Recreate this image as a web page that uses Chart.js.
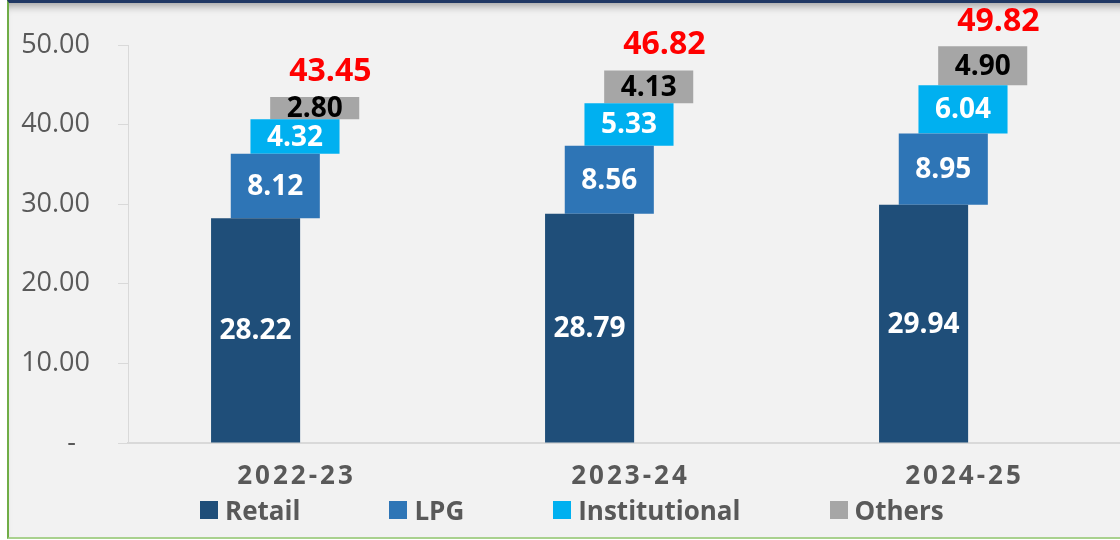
<!DOCTYPE html>
<html>
<head>
<meta charset="utf-8">
<script src="https://cdn.jsdelivr.net/npm/chart.js@4"></script>
<style>
  body { margin: 0; background: #fff; width: 1120px; height: 540px; overflow: hidden; position: relative; font-family: "Open Sans", sans-serif; }
  #frame { position: absolute; left: 7px; top: 0; width: 1120px; height: 534px; background: #f2f2f2;
           border-left: 2px solid #70ad47; border-top: 3px solid #203864; border-bottom: 2px solid #a9d18e;
           box-shadow: inset 0 9px 8px -6px rgba(0,0,0,.35); }
  #wrap { position: absolute; left: 0; top: 0; width: 1130px; height: 540px; }
  #legend { position: absolute; top: 494px; left: 200px; display: flex; gap: 89px; }
  #legend .item { display: flex; align-items: center; height: 32px; font-weight: bold; font-size: 26px; color: #595959; }
  #legend .box { width: 18px; height: 18px; margin-right: 7px; }
</style>
</head>
<body>
<div id="frame"></div>
<div id="wrap"><canvas id="myChart" width="1130" height="540"></canvas></div>
<div id="legend"></div>
<script>
const ctx = document.getElementById('myChart');

// values
const years = ['2022-23', '2023-24', '2024-25'];
const retail = [28.22, 28.79, 29.94];
const lpg = [8.12, 8.56, 8.95];
const institutional = [4.32, 5.33, 6.04];
const others = [2.80, 4.13, 4.90];
const totals = [43.45, 46.82, 49.82];

const seriesNames = ['Retail', 'LPG', 'Institutional', 'Others'];
const seriesColors = ['#1f4e79', '#2e75b6', '#00b0f0', '#a6a6a6'];
const labelColors = ['#ffffff', '#ffffff', '#ffffff', '#000000'];
const font = '"Open Sans", sans-serif';

// each segment floats on top of the ones before it
const series = [retail, lpg, institutional, others];
let base = years.map(() => 0);
const datasets = series.map(function (vals, s) {
  const bars = vals.map((v, i) => [base[i], base[i] + v]);
  base = bars.map(b => b[1]);
  return {
    label: seriesNames[s],
    data: bars,
    values: vals,
    backgroundColor: seriesColors[s],
    labelColor: labelColors[s]
  };
});
datasets.push({
  label: 'Total',
  data: totals,
  isTotal: true,
  backgroundColor: 'rgba(0,0,0,0)'
});

const valueLabels = {
  id: 'valueLabels',
  afterDatasetsDraw(chart) {
    const c = chart.ctx;
    c.save();
    c.textAlign = 'center';
    c.textBaseline = 'middle';
    chart.data.datasets.forEach(function (ds, di) {
      chart.getDatasetMeta(di).data.forEach(function (bar, i) {
        if (ds.isTotal) {
          c.font = 'bold 32px ' + font;
          c.fillStyle = '#ff0000';
          c.fillText(totals[i].toFixed(2), bar.x - 4, bar.y - 25);
        } else {
          c.font = 'bold 28px ' + font;
          c.fillStyle = ds.labelColor;
          c.fillText(ds.values[i].toFixed(2), bar.x, (bar.y + bar.base) / 2 + 1);
        }
      });
    });
    c.restore();
  }
};

const yearLabels = {
  id: 'yearLabels',
  afterDraw(chart) {
    const c = chart.ctx;
    const x = chart.scales.x;
    c.save();
    c.font = 'bold 26px ' + font;
    c.fillStyle = '#595959';
    c.textAlign = 'center';
    c.textBaseline = 'middle';
    c.letterSpacing = '3px';
    years.forEach(function (y, i) {
      c.fillText(y, x.getPixelForValue(i) + 1.5, x.top + 34);
    });
    c.restore();
  }
};

new Chart(ctx, {
  type: 'bar',
  data: { labels: years, datasets: datasets },
  options: {
    responsive: false,
    animation: false,
    layout: { padding: { top: 45, left: 0, right: 0, bottom: 0 } },
    categoryPercentage: 0.295,
    barPercentage: 4.52,
    plugins: { legend: { display: false }, tooltip: { enabled: false } },
    scales: {
      x: {
        grid: { display: false },
        border: { color: '#d9d9d9', width: 2 },
        ticks: { display: false },
        afterFit: s => { s.height = 97; }
      },
      y: {
        min: 0,
        max: 50,
        ticks: {
          stepSize: 10,
          padding: 28,
          color: '#595959',
          font: { family: font, size: 27 },
          callback: v => v === 0 ? '-  ' : v.toFixed(2)
        },
        grid: { drawOnChartArea: false, tickLength: 10, color: '#d9d9d9' },
        border: { color: '#d9d9d9', width: 1 },
        afterFit: s => { s.width = 128; }
      }
    }
  },
  plugins: [valueLabels, yearLabels]
});

// legend
const legend = document.getElementById('legend');
seriesNames.forEach(function (name, s) {
  const item = document.createElement('div');
  item.className = 'item';
  item.innerHTML = '<span class="box" style="background:' + seriesColors[s] + '"></span>' + name;
  legend.appendChild(item);
});
</script>
</body>
</html>
